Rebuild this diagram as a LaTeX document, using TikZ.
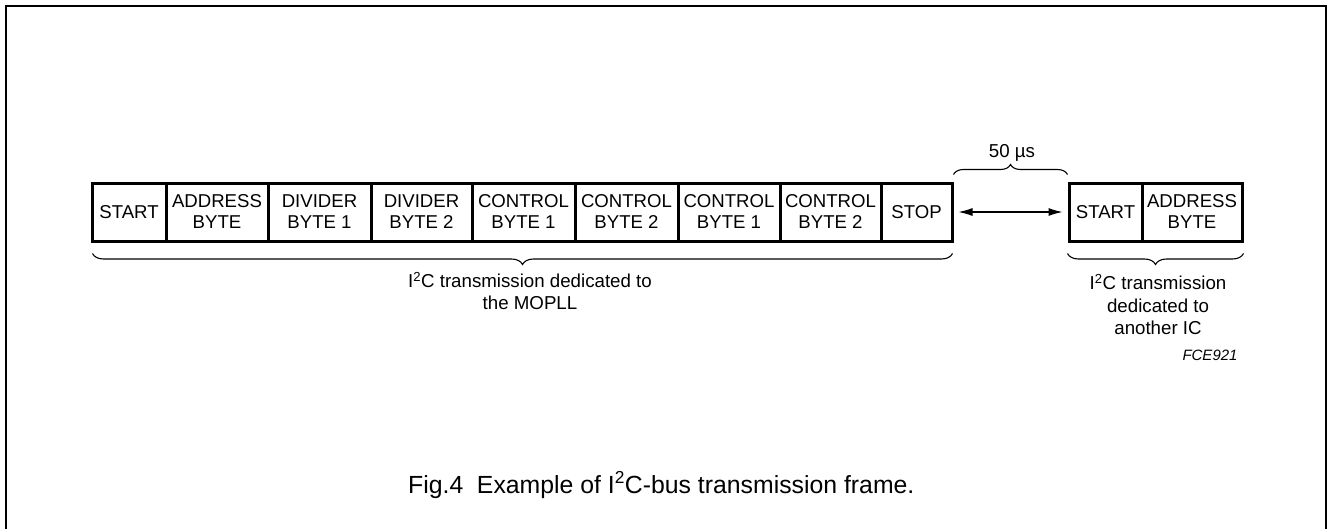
\documentclass[tikz,border=0pt]{standalone}
\usepackage{fontspec}
\setmainfont{Liberation Sans}
\usetikzlibrary{arrows.meta,decorations.pathreplacing}
\begin{document}
\begin{tikzpicture}[x=1pt,y=-1pt,
  fbox/.style={draw, line width=3pt, inner sep=0pt, minimum height=58pt, align=center,
    font=\fontsize{18.6}{21}\selectfont},
  lbl/.style={inner sep=0pt, align=center, font=\fontsize{18.7}{22.3}\selectfont},
  brc/.style={decorate, line width=1.1pt, decoration={brace, amplitude=#1}},
  dimarrow/.style={line width=1.1pt, {Latex[length=14pt,width=8pt]}-{Latex[length=14pt,width=8pt]}}
]
\useasboundingbox (0,0) rectangle (1327,528);
\draw[line width=2pt] (5.5,530) -- (5.5,5.5) -- (1325.5,5.5) -- (1325.5,530);

% main frame boxes
\node[fbox, minimum width=74pt]  (st)  at (129,212)   {START};
\node[fbox, minimum width=102pt] (ad)  at (217,212)   {ADDRESS\\BYTE};
\node[fbox, minimum width=103pt] (d1)  at (319.5,212) {DIVIDER\\BYTE 1};
\node[fbox, minimum width=101pt] (d2)  at (421.5,212) {DIVIDER\\BYTE 2};
\node[fbox, minimum width=103pt] (c1)  at (523.5,212) {CONTROL\\BYTE 1};
\node[fbox, minimum width=103pt] (c2)  at (626.5,212) {CONTROL\\BYTE 2};
\node[fbox, minimum width=102pt] (c3)  at (729,212)   {CONTROL\\BYTE 1};
\node[fbox, minimum width=101pt] (c4)  at (830.5,212) {CONTROL\\BYTE 2};
\node[fbox, minimum width=71pt]  (sp)  at (916.5,212) {STOP};

% second frame
\node[fbox, minimum width=73pt]  (st2) at (1105.5,212) {START};
\node[fbox, minimum width=100pt] (ad2) at (1192,212)   {ADDRESS\\BYTE};

% gap arrow
\draw[dimarrow, shorten <=5pt, shorten >=5pt] (sp.east) -- (st2.west);

% brace above gap
\coordinate (gA) at ([yshift=7pt]sp.north east);
\coordinate (gB) at ([yshift=7pt]st2.north west);
\draw[brc=10pt] (gA) -- (gB);
\node[lbl] (gl) at (1012,153) {50 µs};

% brace below main frame
\coordinate (mA) at ([xshift=-1pt,yshift=-11pt]sp.south east);
\coordinate (mB) at ([xshift=2pt,yshift=-11pt]st.south west);
\draw[brc=11pt] (mA) -- (mB);
\node[lbl] (ml) at (530,291) {I\textsuperscript{2}C transmission dedicated to\\the MOPLL};

% brace below second frame
\coordinate (sA) at ([yshift=-11pt]ad2.south east);
\coordinate (sB) at ([yshift=-11pt]st2.south west);
\draw[brc=11pt] (sA) -- (sB);
\node[lbl] (sl) at (1158,304.5) {I\textsuperscript{2}C transmission\\dedicated to\\another IC};

\node[inner sep=0pt, font=\fontsize{15}{17}\selectfont\itshape] (code) at (1210,355) {FCE921};

\node[inner sep=0pt, anchor=west, font=\fontsize{24.8}{28}\selectfont] (cap) at (408,485)
  {Fig.4\hspace{0.55em}Example of I\textsuperscript{2}C-bus transmission frame.};
\end{tikzpicture}
\end{document}
